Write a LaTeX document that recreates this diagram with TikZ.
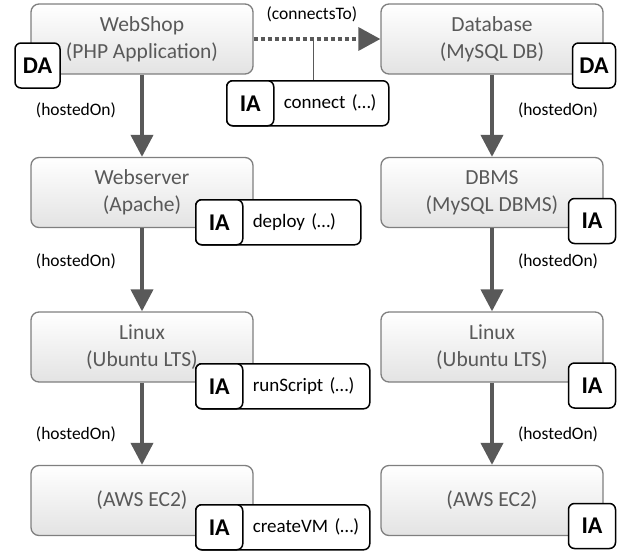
\documentclass[tikz,border=0pt]{standalone}
\usepackage{fontspec}
\setmainfont{Carlito}
\usetikzlibrary{positioning,calc,arrows.meta}

\definecolor{boxline}{HTML}{7F7F7F}
\definecolor{boxtext}{HTML}{595959}
\definecolor{linkgray}{HTML}{595959}
\definecolor{shadebot}{HTML}{E3E3E3}

\tikzset{
  comp/.style={draw=boxline, line width=1.3pt, rounded corners=8pt,
    top color=white, bottom color=shadebot, minimum width=222pt,
    minimum height=70pt, align=center, text=boxtext,
    font=\fontsize{21.5}{27}\selectfont},
  badge/.style={draw=black, line width=1.5pt, rounded corners=6pt, fill=white,
    minimum width=47pt, minimum height=45pt, inner sep=0pt,
    font=\fontsize{24}{28}\selectfont\bfseries},
  opbox/.style={draw=black, line width=1.5pt, rounded corners=6pt, fill=white,
    minimum height=45pt, inner xsep=7pt, inner ysep=0pt, align=left,
    anchor=north west, font=\fontsize{19}{22}\selectfont},
  hosted/.style={draw=linkgray, line width=4pt,
    -{Triangle[width=22pt,length=22pt]}},
  connects/.style={draw=linkgray, line width=3.5pt, dash pattern=on 4pt off 3pt,
    -{Triangle[width=23pt,length=22pt]}},
  tapline/.style={draw=linkgray, line width=1.3pt},
  edgelabel/.style={inner sep=0pt, font=\fontsize{17.5}{20}\selectfont}
}

\begin{document}
\begin{tikzpicture}[x=1pt,y=-1pt]
\useasboundingbox (0,0) rectangle (625,550);

% application stack
\node[comp] (webshop) at (142,39) {WebShop\\(PHP Application)};
\node[comp] (webserver) at (142,192.5) {Webserver\\(Apache)};
\node[comp] (linux-app) at (142,347) {Linux\\(Ubuntu LTS)};
\node[comp] (ec2-app) at (142,500.5) {(AWS EC2)};

% database stack
\node[comp] (database) at (492,39) {Database\\(MySQL DB)};
\node[comp] (dbms) at (492,192.5) {DBMS\\(MySQL DBMS)};
\node[comp] (linux-db) at (492,347) {Linux\\(Ubuntu LTS)};
\node[comp] (ec2-db) at (492,500.5) {(AWS EC2)};

\draw[hosted] (webshop) -- node[edgelabel, pos=0.43, left=24pt] {(hostedOn)} (webserver);
\draw[hosted] (webserver) -- node[edgelabel, pos=0.4, left=24pt] {(hostedOn)} (linux-app);
\draw[hosted] (linux-app) -- node[edgelabel, pos=0.63, left=24pt] {(hostedOn)} (ec2-app);

\draw[hosted] (database) -- node[edgelabel, pos=0.43, right=24pt] {(hostedOn)} (dbms);
\draw[hosted] (dbms) -- node[edgelabel, pos=0.4, right=24pt] {(hostedOn)} (linux-db);
\draw[hosted] (linux-db) -- node[edgelabel, pos=0.63, right=24pt] {(hostedOn)} (ec2-db);

\draw[connects] (webshop) -- coordinate[pos=0.47] (conn-tap)
  node[edgelabel, pos=0.46, above=15pt] {(connectsTo)} (database);

% implementation artifacts
\node[opbox, text width=148pt] (connect-op) at (226,80) {\hspace*{50pt}connect (…)};
\node[badge, anchor=west] (connect-ia) at (connect-op.west) {IA};
\draw[tapline] (conn-tap) -- (conn-tap |- connect-op.north);

\node[opbox, text width=151pt] (deploy-op) at (195,199) {\hspace*{50pt}deploy (…)};
\node[badge, anchor=west] (deploy-ia) at (deploy-op.west) {IA};

\node[opbox, text width=160pt] (script-op) at (195,363) {\hspace*{50pt}runScript (…)};
\node[badge, anchor=west] (script-ia) at (script-op.west) {IA};

\node[opbox, text width=160pt] (vm-op) at (195,504) {\hspace*{50pt}createVM (…)};
\node[badge, anchor=west] (vm-ia) at (vm-op.west) {IA};

\node[badge] (dbms-ia) at (592,221) {IA};
\node[badge] (linux-db-ia) at (592,385.5) {IA};
\node[badge] (ec2-db-ia) at (592,526) {IA};

% deployment artifacts
\node[badge, minimum width=45pt] (webshop-da) at (37.5,65.5) {DA};
\node[badge, minimum width=43pt] (database-da) at (594,65.5) {DA};
\end{tikzpicture}
\end{document}
